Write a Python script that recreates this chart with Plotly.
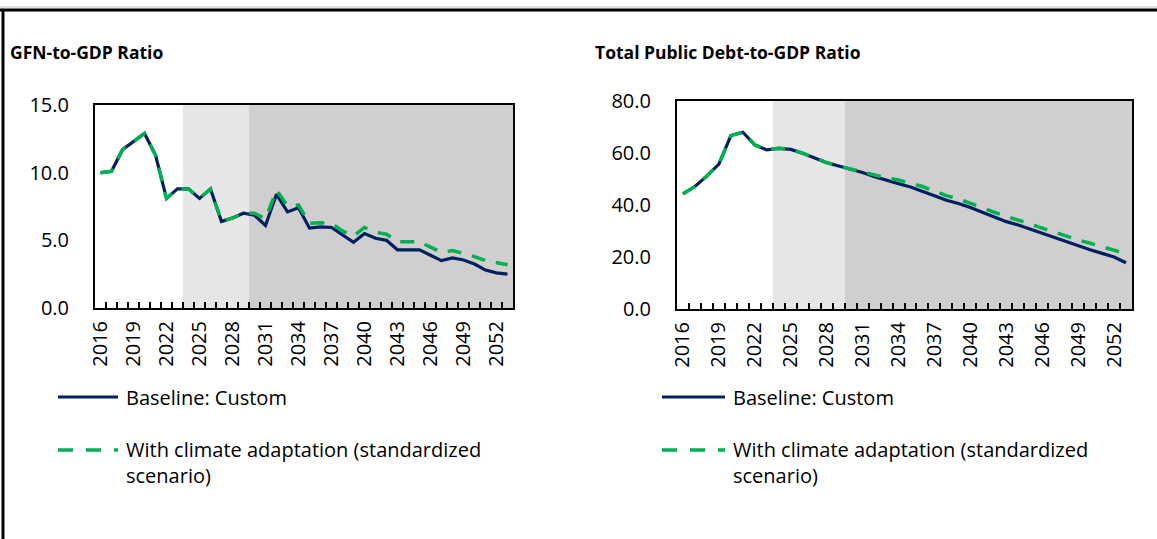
import plotly.graph_objects as go

# years on the category axis, one point per year
years = list(range(2016, 2054))
label_years = years[::3]

# GFN-to-GDP ratio (percent)
gfn_baseline = [10.0, 10.1, 11.7, 12.3, 12.9, 11.3, 8.1, 8.8, 8.8, 8.1,
                8.8, 6.4, 6.65, 7.0, 6.85, 6.1, 8.4, 7.1, 7.4, 5.9,
                6.0, 5.95, 5.4, 4.85, 5.5, 5.15, 5.0, 4.3, 4.3, 4.3,
                3.9, 3.5, 3.7, 3.55, 3.25, 2.8, 2.6, 2.5]
gfn_climate = [10.0, 10.1, 11.7, 12.3, 12.9, 11.3, 8.1, 8.8, 8.8, 8.1,
               8.8, 6.4, 6.65, 7.0, 7.0, 6.6, 8.7, 7.55, 7.6, 6.25,
               6.3, 6.25, 5.7, 5.3, 5.95, 5.6, 5.45, 4.9, 4.9, 4.9,
               4.5, 4.1, 4.25, 4.05, 3.8, 3.5, 3.35, 3.2]

# Total public debt-to-GDP ratio (percent)
debt_baseline = [44.3, 47.1, 51.2, 55.7, 66.7, 68.0, 63.1, 61.2, 61.8, 61.4,
                 59.9, 58.0, 56.3, 55.0, 53.8, 52.5, 50.9, 49.4, 48.2, 46.9,
                 45.4, 43.6, 41.8, 40.6, 39.0, 37.2, 35.3, 33.6, 32.3, 30.7,
                 28.9, 27.3, 25.9, 24.3, 22.8, 21.4, 20.0, 17.8]
debt_climate = [44.3, 47.1, 51.2, 55.7, 66.7, 68.0, 63.1, 61.2, 61.8, 61.4,
                59.9, 58.0, 56.3, 55.0, 53.8, 52.8, 51.6, 50.4, 49.6, 48.5,
                47.1, 45.4, 43.6, 42.3, 40.8, 39.0, 37.2, 35.6, 34.0, 32.7,
                31.1, 29.6, 28.0, 26.6, 25.3, 24.0, 22.7, 21.3]

# shaded projection periods (first year, last year)
light_period = (2024, 2029)
dark_period = (2030, 2053)

W, H = 1157, 539
FONT = "Open Sans"
NAVY = "#002060"
GREEN = "#00B050"
LIGHT_GRAY = "#E6E6E6"
DARK_GRAY = "#D0CECE"
TICK_SIZE = 20


def px(x):
    return x / W


def py(y):
    return 1 - y / H


fig = go.Figure()

for xa, ya, base, clim in [("x", "y", gfn_baseline, gfn_climate),
                           ("x2", "y2", debt_baseline, debt_climate)]:
    fig.add_trace(go.Scatter(x=years, y=base, mode="lines", xaxis=xa, yaxis=ya,
                             line=dict(color=NAVY, width=3.2), showlegend=False))
    fig.add_trace(go.Scatter(x=years, y=clim, mode="lines", xaxis=xa, yaxis=ya,
                             line=dict(color=GREEN, width=3.5, dash="14px,11px"),
                             showlegend=False))

# empty traces so the label axes (x3, x4) get drawn
fig.add_trace(go.Scatter(x=[], y=[], xaxis="x3", yaxis="y", showlegend=False))
fig.add_trace(go.Scatter(x=[], y=[], xaxis="x4", yaxis="y2", showlegend=False))

xrange_ = [years[0] - 0.5, years[-1] + 0.5]
boundaries = [y - 0.5 for y in years] + [years[-1] + 0.5]

# base x axes: frame + tick marks between the years
xticks = dict(
    range=xrange_, tickmode="array", tickvals=boundaries,
    ticktext=[""] * len(boundaries), ticks="inside", ticklen=6,
    tickwidth=1.5, tickcolor="black",
    showline=True, mirror=True, linecolor="black", linewidth=2,
    showgrid=False, zeroline=False,
)
# overlay x axes: only the year labels
xlabels = dict(
    range=xrange_, tickmode="array", tickvals=label_years, tickangle=-90,
    ticks="", ticklabelstandoff=8, showline=False, showgrid=False,
    zeroline=False, side="bottom",
    tickfont=dict(size=TICK_SIZE, color="#000000"),
)
ycommon = dict(
    ticks="", tickformat=".1f", ticklabelstandoff=20,
    showline=True, mirror=True, linecolor="black", linewidth=2,
    showgrid=False, zeroline=False,
    tickfont=dict(size=TICK_SIZE, color="#000000"),
)

fig.update_layout(
    width=W, height=H,
    margin=dict(l=0, r=0, t=0, b=0, pad=0, autoexpand=False),
    paper_bgcolor="white", plot_bgcolor="white",
    font=dict(family=FONT, color="#000000"),
    xaxis=dict(domain=[px(95), px(513)], anchor="y", **xticks),
    xaxis3=dict(overlaying="x", anchor="y", **xlabels),
    yaxis=dict(domain=[py(308), py(105)], anchor="x", range=[0, 15],
               tick0=0, dtick=5, **ycommon),
    xaxis2=dict(domain=[px(677), px(1132)], anchor="y2", **xticks),
    xaxis4=dict(overlaying="x2", anchor="y2", **xlabels),
    yaxis2=dict(domain=[py(309), py(101)], anchor="x2", range=[0, 80],
                tick0=0, dtick=20, **ycommon),
)

shapes = []
for xref, yref in [("x", "y domain"), ("x2", "y2 domain")]:
    for (start, end), color in [(light_period, LIGHT_GRAY), (dark_period, DARK_GRAY)]:
        shapes.append(dict(type="rect", xref=xref, yref=yref,
                           x0=start - 0.5, x1=end + 0.5, y0=0, y1=1,
                           fillcolor=color, line=dict(width=0), layer="below"))

# outer frame of the exhibit
shapes.append(dict(type="line", xref="paper", yref="paper", x0=0, x1=1,
                   y0=py(7), y1=py(7), line=dict(color="#BFBFBF", width=1)))
shapes.append(dict(type="line", xref="paper", yref="paper", x0=0, x1=1,
                   y0=py(10), y1=py(10), line=dict(color="black", width=3)))
shapes.append(dict(type="line", xref="paper", yref="paper", x0=px(3), x1=px(3),
                   y0=py(10), y1=0, line=dict(color="black", width=3)))

annotations = []
legend_spots = [(8, 58, 118, 124), (593, 662, 725, 731)]
titles = ["GFN-to-GDP Ratio", "Total Public Debt-to-GDP Ratio"]


def text_note(text, x, y, size=TICK_SIZE, yanchor="middle"):
    return dict(text=text, x=px(x), y=py(y), xref="paper", yref="paper",
                xanchor="left", yanchor=yanchor, align="left", showarrow=False,
                font=dict(size=size, family=FONT))


for (tx, lx0, lx1, textx), title in zip(legend_spots, titles):
    annotations.append(text_note(f"<b>{title}</b>", tx, 52, size=17.5))
    shapes.append(dict(type="line", xref="paper", yref="paper",
                       x0=px(lx0), x1=px(lx1), y0=py(397), y1=py(397),
                       line=dict(color=NAVY, width=3.2)))
    shapes.append(dict(type="line", xref="paper", yref="paper",
                       x0=px(lx0), x1=px(lx1), y0=py(450), y1=py(450),
                       line=dict(color=GREEN, width=3.5, dash="15px,13px")))
    annotations.append(text_note("Baseline: Custom", textx, 397))
    annotations.append(text_note("With climate adaptation (standardized<br>scenario)",
                                 textx, 434, yanchor="top"))

fig.update_layout(shapes=shapes, annotations=annotations)

fig.write_html("out.html",
               config={"displayModeBar": False},
               post_script="document.body.style.margin='0px';"
                           "document.body.style.overflow='hidden';")
